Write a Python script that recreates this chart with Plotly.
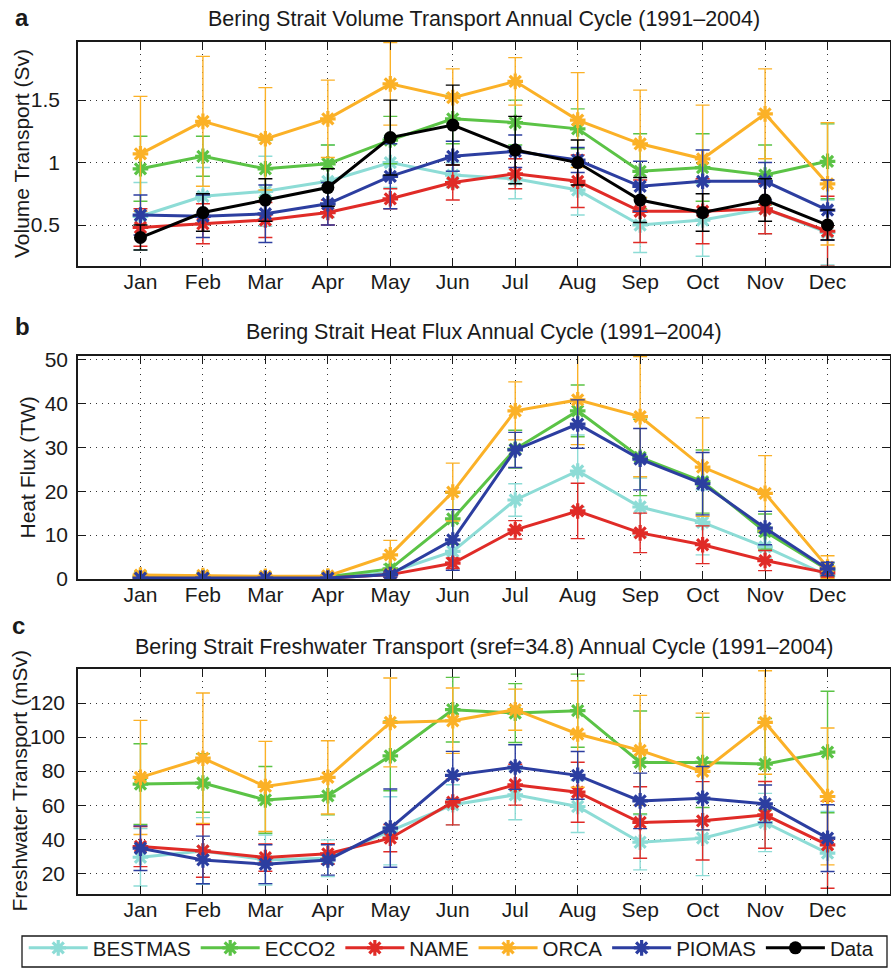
import plotly.graph_objects as go

months = ["Jan", "Feb", "Mar", "Apr", "May", "Jun", "Jul", "Aug", "Sep", "Oct", "Nov", "Dec"]
month_idx = list(range(1, 13))

series_names = ["BESTMAS", "ECCO2", "NAME", "ORCA", "PIOMAS", "Data"]
series_colors = ["#8ddcd6", "#5bc346", "#e02b27", "#fbb127", "#2c3ea0", "#000000"]

# Panel a: Volume transport (Sv)
vol_bestmas = [0.57, 0.73, 0.77, 0.85, 1.00, 0.90, 0.87, 0.78, 0.50, 0.54, 0.63, 0.44]
vol_bestmas_err = [0.27, 0.23, 0.28, 0.29, 0.20, 0.10, 0.16, 0.20, 0.22, 0.29, 0.20, 0.26]
vol_ecco2 = [0.95, 1.05, 0.95, 0.99, 1.18, 1.35, 1.32, 1.27, 0.93, 0.96, 0.90, 1.01]
vol_ecco2_err = [0.26, 0.16, 0.23, 0.15, 0.19, 0.20, 0.18, 0.16, 0.30, 0.27, 0.24, 0.30]
vol_name = [0.48, 0.51, 0.54, 0.60, 0.71, 0.84, 0.91, 0.85, 0.61, 0.61, 0.63, 0.45]
vol_name_err = [0.15, 0.16, 0.14, 0.10, 0.08, 0.14, 0.12, 0.21, 0.25, 0.26, 0.20, 0.28]
vol_orca = [1.07, 1.33, 1.19, 1.35, 1.63, 1.52, 1.65, 1.34, 1.15, 1.03, 1.39, 0.83]
vol_orca_err = [0.46, 0.52, 0.41, 0.31, 0.33, 0.23, 0.19, 0.38, 0.43, 0.43, 0.36, 0.49]
vol_piomas = [0.58, 0.57, 0.59, 0.67, 0.89, 1.05, 1.09, 1.02, 0.81, 0.85, 0.85, 0.62]
vol_piomas_err = [0.16, 0.17, 0.23, 0.17, 0.26, 0.12, 0.13, 0.10, 0.20, 0.25, 0.15, 0.24]
vol_data = [0.40, 0.60, 0.70, 0.80, 1.20, 1.30, 1.10, 1.00, 0.70, 0.60, 0.70, 0.50]
vol_data_err = [0.10, 0.15, 0.17, 0.15, 0.30, 0.32, 0.27, 0.18, 0.18, 0.15, 0.17, 0.12]

# Panel b: Heat flux (TW)
heat_bestmas = [0.3, 0.3, 0.3, 0.3, 1.5, 6.3, 18.0, 24.6, 16.4, 12.9, 7.3, 0.8]
heat_bestmas_err = [0.2, 0.2, 0.2, 0.2, 0.8, 2.5, 3.7, 8.2, 6.6, 7.4, 2.5, 0.8]
heat_ecco2 = [0.6, 0.5, 0.4, 0.5, 2.3, 13.7, 29.6, 38.3, 27.7, 22.2, 10.8, 2.1]
heat_ecco2_err = [0.3, 0.3, 0.3, 0.3, 1.0, 5.8, 4.3, 5.9, 8.7, 7.2, 4.0, 1.5]
heat_name = [0.2, 0.2, 0.2, 0.2, 1.0, 3.6, 11.2, 15.5, 10.5, 7.8, 4.2, 1.4]
heat_name_err = [0.1, 0.1, 0.1, 0.1, 0.6, 1.2, 2.1, 6.3, 4.5, 4.3, 2.3, 1.0]
heat_orca = [0.9, 0.8, 0.6, 0.7, 5.5, 19.8, 38.3, 40.8, 37.0, 25.5, 19.5, 2.7]
heat_orca_err = [0.4, 0.4, 0.3, 0.3, 3.3, 6.6, 6.6, 10.2, 13.7, 11.2, 8.6, 2.6]
heat_piomas = [0.2, 0.2, 0.2, 0.2, 1.0, 8.9, 29.4, 35.3, 27.3, 21.7, 11.6, 2.3]
heat_piomas_err = [0.1, 0.1, 0.1, 0.1, 0.6, 6.9, 4.0, 5.5, 7.0, 7.1, 3.8, 1.5]

# Panel c: Freshwater transport (mSv)
fw_bestmas = [29.4, 33.1, 27.8, 28.8, 44.9, 60.2, 66.1, 59.2, 38.2, 40.6, 49.8, 31.8]
fw_bestmas_err = [16.9, 19.6, 14.7, 10.8, 20.0, 11.8, 14.7, 15.3, 16.2, 22.0, 17.1, 24.5]
fw_ecco2 = [72.4, 73.0, 63.1, 65.5, 89.0, 116.1, 114.1, 115.5, 85.1, 85.1, 84.1, 91.2]
fw_ecco2_err = [23.7, 17.2, 19.6, 11.2, 20.5, 19.0, 17.3, 21.5, 30.2, 26.5, 26.8, 35.7]
fw_name = [35.7, 33.1, 29.2, 31.4, 40.6, 61.8, 72.0, 67.6, 49.8, 50.8, 54.3, 36.7]
fw_name_err = [11.8, 15.5, 8.0, 6.0, 8.0, 13.4, 12.0, 17.6, 21.0, 23.0, 19.6, 25.5]
fw_orca = [76.3, 87.6, 71.0, 76.3, 108.6, 109.6, 116.1, 101.8, 92.2, 79.8, 108.6, 65.1]
fw_orca_err = [33.5, 38.3, 26.5, 21.5, 26.1, 19.2, 12.1, 31.3, 32.3, 34.3, 30.4, 40.2]
fw_piomas = [34.7, 27.8, 25.3, 27.8, 46.5, 77.5, 82.4, 77.5, 62.5, 64.1, 60.8, 40.6]
fw_piomas_err = [13.1, 14.0, 11.4, 8.9, 23.0, 14.1, 13.1, 14.0, 16.3, 18.6, 11.0, 19.6]

panel_titles = [
    "Bering Strait Volume Transport Annual Cycle (1991\u20132004)",
    "Bering Strait Heat Flux Annual Cycle (1991\u20132004)",
    "Bering Strait Freshwater Transport (sref=34.8) Annual Cycle (1991\u20132004)",
]
panel_letters = ["a", "b", "c"]
y_titles = ["Volume Transport (Sv)", "Heat Flux (TW)", "Freshwater Transport (mSv)"]
y_tickvals = [[0.5, 1, 1.5], [0, 10, 20, 30, 40, 50], [20, 40, 60, 80, 100, 120]]
y_ticktext = [["0.5", "1", "1.5"], ["0", "10", "20", "30", "40", "50"],
              ["20", "40", "60", "80", "100", "120"]]
y_ranges = [[0.172, 1.965], [0, 50.8], [7.8, 140]]

panels = [
    [(vol_bestmas, vol_bestmas_err), (vol_ecco2, vol_ecco2_err), (vol_name, vol_name_err),
     (vol_orca, vol_orca_err), (vol_piomas, vol_piomas_err), (vol_data, vol_data_err)],
    [(heat_bestmas, heat_bestmas_err), (heat_ecco2, heat_ecco2_err), (heat_name, heat_name_err),
     (heat_orca, heat_orca_err), (heat_piomas, heat_piomas_err), None],
    [(fw_bestmas, fw_bestmas_err), (fw_ecco2, fw_ecco2_err), (fw_name, fw_name_err),
     (fw_orca, fw_orca_err), (fw_piomas, fw_piomas_err), None],
]

W, H = 891, 968
FONT = "Liberation Sans, Arial, Helvetica, sans-serif"
FS = 21
TXT = "#1a1a1a"

# pixel layout of plot areas (top, bottom)
x_left, x_right = 78, 890
panel_px = [(42, 266), (356, 579), (669, 894)]
ylabel_standoff = [12, 4, 7]

fig = go.Figure()
for p, traces in enumerate(panels):
    ax = "" if p == 0 else str(p + 1)
    for s, tr in enumerate(traces):
        if tr is None:
            continue
        vals, errs = tr
        color = series_colors[s]
        is_data = series_names[s] == "Data"
        if is_data:
            marker = dict(symbol="circle", size=13, color=color)
        else:
            marker = dict(symbol="asterisk", size=13, color=color,
                          line=dict(color=color, width=3.2))
        fig.add_trace(go.Scatter(
            x=month_idx, y=vals, mode="lines+markers",
            name=series_names[s], legendgroup=series_names[s],
            showlegend=(p == 0),
            line=dict(color=color, width=3),
            marker=marker,
            error_y=dict(type="data", array=errs, visible=True, color=color,
                         thickness=1.4, width=7),
            xaxis="x" + ax, yaxis="y" + ax,
        ))

layout = dict(
    width=W, height=H,
    margin=dict(l=0, r=0, t=0, b=0, autoexpand=False),
    paper_bgcolor="white", plot_bgcolor="white",
    font=dict(family=FONT, size=FS, color=TXT),
    showlegend=True,
    legend=dict(orientation="h", x=0.507, xanchor="center", y=0.0, yanchor="bottom",
                borderwidth=0, bgcolor="rgba(0,0,0,0)",
                font=dict(family=FONT, size=20.5, color=TXT),
                itemwidth=59, tracegroupgap=0),
    shapes=[dict(type="rect", xref="paper", yref="paper",
                 x0=22 / W, x1=887 / W, y0=1 - 967 / H, y1=1 - 936 / H,
                 line=dict(color=TXT, width=1.3), fillcolor="rgba(0,0,0,0)", layer="below")],
)

annotations = []
for p in range(3):
    ax = "" if p == 0 else str(p + 1)
    top, bot = panel_px[p]
    layout["xaxis" + ax] = dict(
        domain=[x_left / W, x_right / W], range=[0, 13],
        tickvals=month_idx, ticktext=months,
        ticks="inside", ticklen=8, tickwidth=1, tickcolor=TXT,
        showline=True, linecolor=TXT, linewidth=1.5, mirror="ticks",
        showgrid=True, gridcolor="#333333", gridwidth=1, griddash="1px,5px",
        zeroline=False, anchor="y" + ax, ticklabelstandoff=-4,
        tickfont=dict(family=FONT, size=FS, color=TXT),
    )
    layout["yaxis" + ax] = dict(
        domain=[1 - bot / H, 1 - top / H], range=y_ranges[p],
        tickvals=y_tickvals[p], ticktext=y_ticktext[p],
        ticks="inside", ticklen=8, tickwidth=1, tickcolor=TXT,
        showline=True, linecolor=TXT, linewidth=1.5, mirror="ticks",
        showgrid=True, gridcolor="#333333", gridwidth=1, griddash="1px,5px",
        zeroline=False, anchor="x" + ax, ticklabelstandoff=ylabel_standoff[p],
        tickfont=dict(family=FONT, size=FS, color=TXT),
    )

title_y = [19, 332, 647]
letter_y = [18, 326, 625]
letter_x = [22, 22, 18]
ytitle_x = [22, 27, 19]
for p in range(3):
    top, bot = panel_px[p]
    annotations.append(dict(text=panel_titles[p], xref="paper", yref="paper",
                            x=((x_left + x_right) / 2) / W, y=1 - title_y[p] / H,
                            xanchor="center", yanchor="middle", showarrow=False,
                            font=dict(family=FONT, size=21.5, color=TXT)))
    annotations.append(dict(text="<b>" + panel_letters[p] + "</b>", xref="paper", yref="paper",
                            x=letter_x[p] / W, y=1 - letter_y[p] / H,
                            xanchor="center", yanchor="middle", showarrow=False,
                            font=dict(family=FONT, size=24, color=TXT)))
    annotations.append(dict(text=y_titles[p], xref="paper", yref="paper",
                            x=ytitle_x[p] / W, y=1 - ((top + bot) / 2) / H,
                            xanchor="center", yanchor="middle", showarrow=False,
                            textangle=-90,
                            font=dict(family=FONT, size=FS, color=TXT)))
layout["annotations"] = annotations

fig.update_layout(**layout)
fig.write_html("out.html")
